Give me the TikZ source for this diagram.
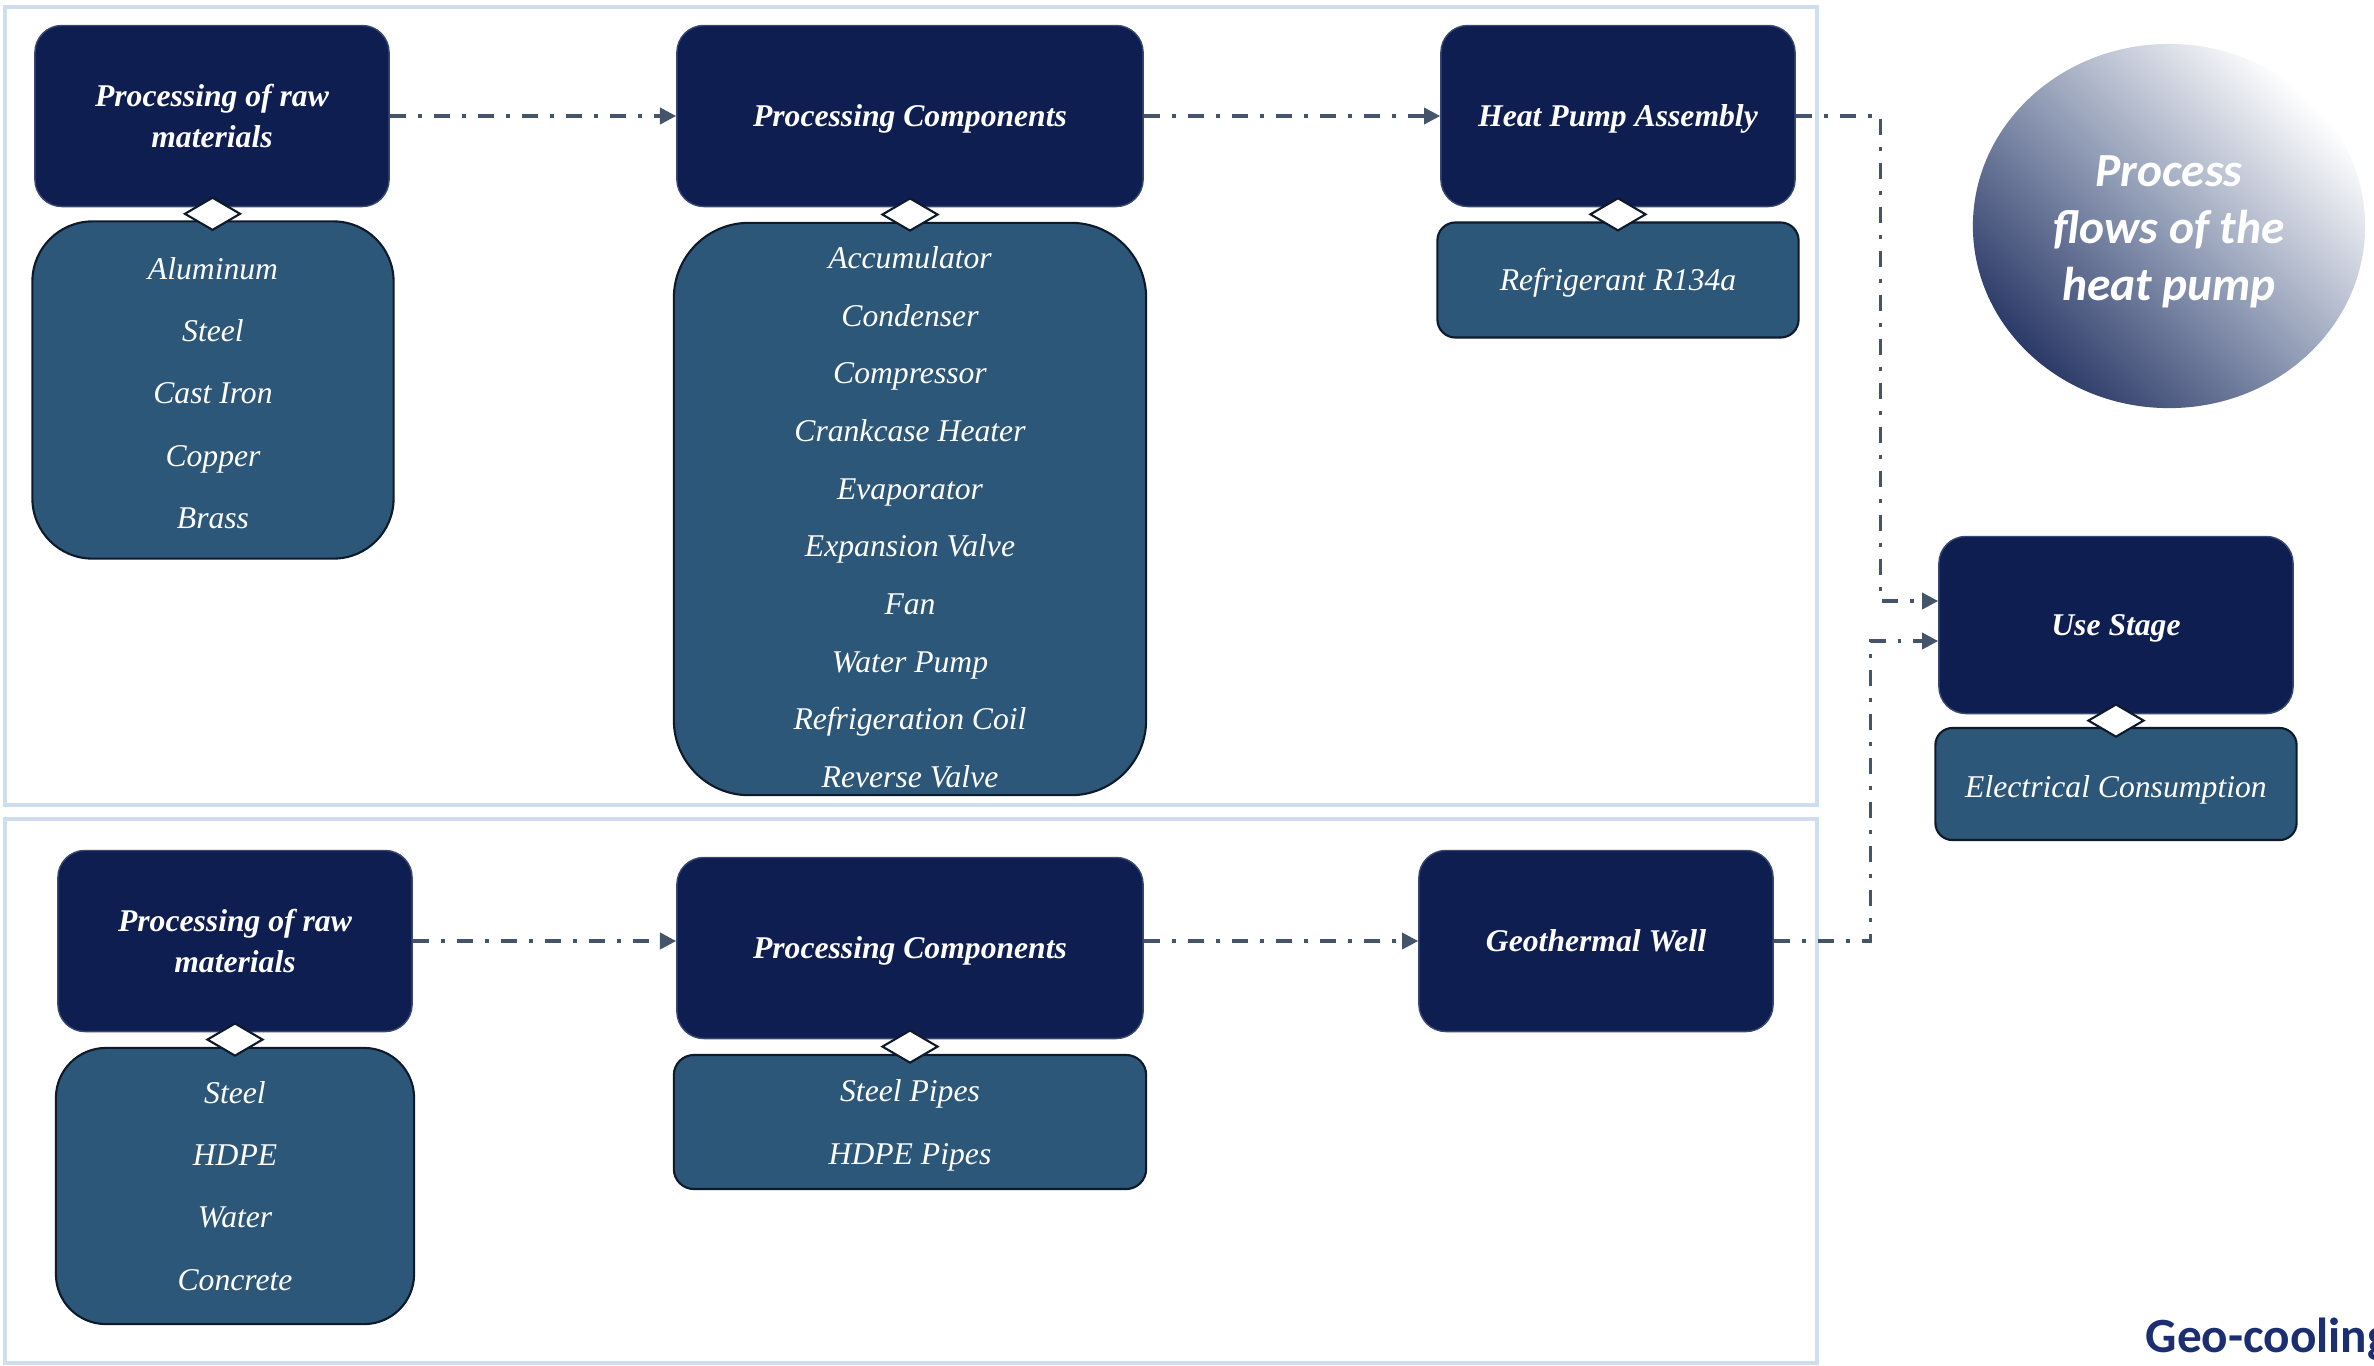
\documentclass[tikz,border=0pt]{standalone}
\usepackage{xcolor}
\usepackage{fontspec}
\setmainfont{Liberation Serif}
\newfontfamily\bubblefont{Carlito}
\usepackage{tikz}
\usetikzlibrary{shapes,arrows.meta,calc}
\definecolor{panelblue}{HTML}{CFDEEE}
\definecolor{stagenavy}{HTML}{0F1E50}
\definecolor{stageedge}{HTML}{3A4871}
\definecolor{listblue}{HTML}{2D5779}
\definecolor{listedge}{HTML}{0E1A2B}
\definecolor{flowgray}{HTML}{44546A}
\definecolor{geoblue}{HTML}{1C2E72}
\definecolor{bubbledark}{HTML}{2C3A68}
\definecolor{bubblemid}{HTML}{939EB7}
\newcommand{\panel}{[draw=panelblue, line width=1.4pt]}
\newcommand{\flow}{[draw=flowgray, line width=0.95pt, dash pattern=on 4.6pt off 3.4pt on 1.1pt off 3.4pt, -{Triangle[length=4.6pt,width=4.6pt]}]}
\tikzset{
	stagebox/.style={rectangle, rounded corners=0.27cm, fill=stagenavy, draw=stageedge, line width=0.4pt, text=white, align=center, inner sep=0pt, minimum width=3.54cm, minimum height=1.81cm, font=\fontsize{9}{11.4}\selectfont\bfseries\itshape},
	listbox/.style={rectangle, fill=listblue, draw=listedge, line width=0.6pt, text=white, align=center, inner sep=0pt, minimum width=3.61cm, font=\fontsize{9}{17.7}\selectfont\itshape},
	oneline/.style={text height=6.2pt, text depth=0pt},
	joint/.style={diamond, fill=white, draw=listedge, line width=0.6pt, inner sep=0pt, minimum width=0.56cm, minimum height=0.33cm}
}

\begin{document}
\begin{tikzpicture}[x=0.01cm, y=-0.01cm]
				\useasboundingbox (0,0) rectangle (2374,1366);
				\draw \panel (5,7) rectangle (1817,805);
				\draw \panel (5,819) rectangle (1817,1363);
				\node[stagebox] (rawtop) at (212,116) {Processing of raw\\materials};
				\node[stagebox, oneline, minimum width=4.66cm] (comptop) at (910,116) {Processing Components};
				\node[stagebox, oneline] (assembly) at (1618,116) {Heat Pump Assembly};
				\node[stagebox, oneline, minimum height=1.77cm] (use) at (2116,625) {Use Stage};
				\node[stagebox] (rawbot) at (235,941) {Processing of raw\\materials};
				\node[stagebox, oneline, minimum width=4.66cm] (compbot) at (910,948) {Processing Components};
				\node[stagebox, oneline] (well) at (1596,941) {Geothermal Well};
				\node[listbox, minimum height=3.37cm, rounded corners=0.6cm] (rawtoplist) at (213,390) {\rule{0pt}{8pt}Aluminum\\Steel\\Cast Iron\\Copper\\Brass};
				\node[listbox, minimum width=4.72cm, minimum height=5.72cm, rounded corners=0.75cm, font=\fontsize{9}{16.4}\selectfont\itshape] (comptoplist) at (910,509) {\rule{0pt}{11pt}Accumulator\\Condenser\\Compressor\\Crankcase Heater\\Evaporator\\Expansion Valve\\Fan\\Water Pump\\Refrigeration Coil\\Reverse Valve};
				\node[listbox, oneline, minimum height=1.15cm, rounded corners=0.18cm] (assemblylist) at (1618,280) {Refrigerant R134a};
				\node[listbox, oneline, text height=7.5pt, minimum height=1.12cm, rounded corners=0.17cm] (uselist) at (2116,784) {Electrical Consumption};
				\node[listbox, minimum width=3.58cm, minimum height=2.76cm, rounded corners=0.5cm] (rawbotlist) at (235,1186) {Steel\\HDPE\\Water\\Concrete};
				\node[listbox, minimum width=4.72cm, minimum height=1.34cm, rounded corners=0.2cm, font=\fontsize{9}{18}\selectfont\itshape] (compbotlist) at (910,1122) {\rule{0pt}{8pt}Steel Pipes\\HDPE Pipes};
				\node[joint] (rawtopjoint) at ($(rawtop.south)!.5!(rawtoplist.north)$) {};
				\node[joint] (comptopjoint) at ($(comptop.south)!.5!(comptoplist.north)$) {};
				\node[joint] (assemblyjoint) at ($(assembly.south)!.5!(assemblylist.north)$) {};
				\node[joint] (usejoint) at ($(use.south)!.5!(uselist.north)$) {};
				\node[joint] (rawbotjoint) at ($(rawbot.south)!.5!(rawbotlist.north)$) {};
				\node[joint] (compbotjoint) at ($(compbot.south)!.5!(compbotlist.north)$) {};
				\node[ellipse, minimum width=3.92cm, minimum height=3.64cm, inner sep=0pt, top color=white, bottom color=bubbledark, middle color=bubblemid, shading angle=-45, text=white, align=center, font=\fontsize{13.5}{16.2}\bubblefont\bfseries\itshape] (bubble) at (2169,226) {\rule{0pt}{12pt}Process\\flows of the\\heat pump};
				\node[anchor=base west, inner sep=0pt, text=geoblue, font=\fontsize{14}{16}\bubblefont\bfseries] (geotag) at (2145,1352) {Geo-cooling};
				\coordinate (usetopin) at ($(use.west)+(0,-24)$);
				\coordinate (usebotin) at ($(use.west)+(0,16)$);
				\draw \flow (rawtop) -- (comptop);
				\draw \flow (comptop) -- (assembly);
				\draw \flow (assembly.east) -- ++(85,0) |- (usetopin);
				\draw \flow (rawbot.east) -- (rawbot.east -| compbot.west);
				\draw \flow (compbot.east |- well.west) -- (well.west);
				\draw \flow (well.east) -- ++(97,0) |- (usebotin);
			\end{tikzpicture}
\end{document}
